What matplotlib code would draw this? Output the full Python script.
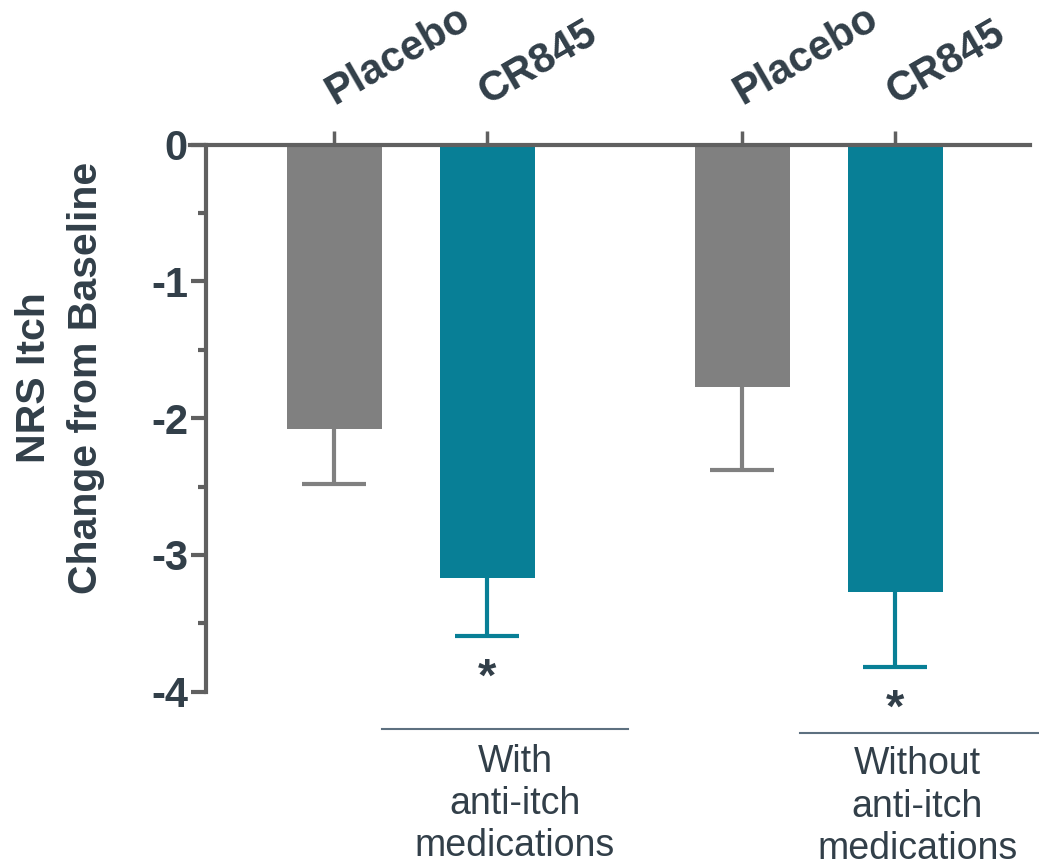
import matplotlib
matplotlib.use("Agg")
import matplotlib.pyplot as plt
from matplotlib.ticker import MultipleLocator

# Data
treatments = ["Placebo", "CR845", "Placebo", "CR845"]
positions = [0.0, 1.0, 2.667, 3.667]
mean_change = [-2.08, -3.17, -1.77, -3.27]
sem = [0.40, 0.42, 0.61, 0.55]
significant = [False, True, False, True]
groups = ["With\nanti-itch\nmedications", "Without\nanti-itch\nmedications"]

GRAY = "#808080"
TEAL = "#087f96"
AXIS = "#606060"
TEXT = "#323f49"
RULE = "#5d7080"
bar_colors = [GRAY, TEAL, GRAY, TEAL]

plt.rcParams["font.family"] = ["Liberation Sans", "DejaVu Sans"]

fig = plt.figure(figsize=(10.39, 8.65), dpi=100)
ax = fig.add_axes([0.1829, 0.2003, 0.8084, 0.6326])

ax.bar(positions, mean_change, width=0.62, color=bar_colors, zorder=2)
for x, m, e, c in zip(positions, mean_change, sem, bar_colors):
    eb = ax.errorbar(x, m, yerr=[[e], [0]], fmt="none", ecolor=c,
                     elinewidth=3, capsize=23, capthick=3, zorder=1)
    # only the lower whisker carries a cap
    eb[1][1].set_visible(False)

ax.set_xlim(-0.944, 4.546)
ax.set_ylim(-4, 0)

# spines: top line spans the full width, left axis sits inside it
for side in ("right", "bottom"):
    ax.spines[side].set_visible(False)
ax.spines["top"].set_color(AXIS)
ax.spines["top"].set_linewidth(3)
ax.spines["left"].set_color(AXIS)
ax.spines["left"].set_linewidth(3)
ax.spines["left"].set_position(("data", -0.84))
ax.spines["left"].set_bounds(-4, 0)

ax.xaxis.set_ticks_position("top")
ax.set_xticks(positions)
ax.set_xticklabels([])
ax.tick_params(axis="x", direction="out", length=10, width=2.5, color=AXIS)

ax.yaxis.set_major_locator(MultipleLocator(1))
ax.yaxis.set_minor_locator(MultipleLocator(0.5))
ax.tick_params(axis="y", which="major", direction="out", length=11,
               width=3, color=AXIS, labelsize=30, labelcolor=TEXT, pad=2)
ax.tick_params(axis="y", which="minor", direction="out", length=6,
               width=3, color=AXIS)
ax.set_yticks([0, -1, -2, -3, -4])
ax.set_yticklabels(["0", "-1", "-2", "-3", "-4"], fontweight="bold")

# rotated treatment labels above the top line
for x, name in zip(positions, treatments):
    ax.text(x, 0.29, name, rotation=30, rotation_mode="anchor",
            ha="left", va="baseline", fontsize=30, fontweight="bold",
            color=TEXT, clip_on=False)

# significance markers below the error bars
for x, m, e, s in zip(positions, mean_change, sem, significant):
    if s:
        ax.text(x, m - e - 0.40, "*", ha="center", va="baseline",
                fontsize=34, fontweight="bold", color=TEXT)

# group rules and captions
ax.plot([0.31, 1.92], [-4.27, -4.27], color=RULE, lw=1.5, clip_on=False)
ax.plot([3.04, 4.72], [-4.30, -4.30], color=RULE, lw=1.5, clip_on=False)
ax.text(1.18, -4.38, groups[0], ha="center", va="top", fontsize=27,
        color=TEXT, linespacing=1.22, clip_on=False)
ax.text(3.81, -4.40, groups[1], ha="center", va="top", fontsize=27,
        color=TEXT, linespacing=1.22, clip_on=False)

fig.text(60 / 1039, 1 - 378 / 865, "NRS Itch\nChange from Baseline",
         rotation=90, ha="center", va="center", multialignment="center",
         fontsize=29.5, fontweight="bold", color=TEXT, linespacing=1.45)

fig.savefig("out.png", dpi=100, facecolor="white")
